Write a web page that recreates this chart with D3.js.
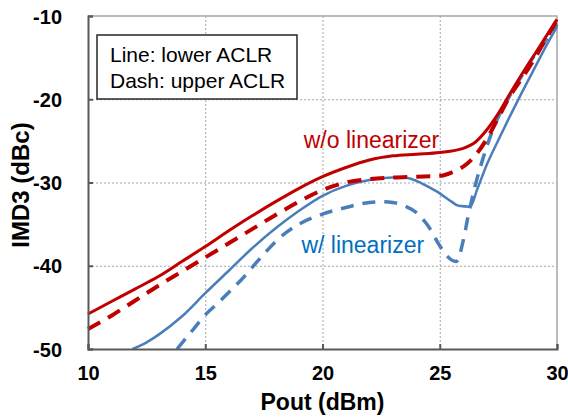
<!DOCTYPE html>
<html>
<head>
<meta charset="utf-8">
<script src="https://cdn.jsdelivr.net/npm/d3@7"></script>
<style>
  body { margin: 0; background: #fff; }
  svg { font-family: "Liberation Sans", Arial, sans-serif; }
  .tick text { font-weight: bold; font-size: 20px; fill: #000; }
  .grid line { stroke: #a6a6a6; stroke-dasharray: 2,2; }
  .grid .domain { display: none; }
</style>
</head>
<body>
<script>
// IMD3 vs Pout, [Pout dBm, IMD3 dBc]
var woLower = [[10,-45.8],[11,-44.3],[12,-42.8],[13,-41.3],[14,-39.5],[15,-37.7],[16,-35.8],[17,-34.0],[18,-32.3],[19,-30.7],
  [20,-29.3],[21,-28.2],[22,-27.3],[23,-26.8],[24,-26.6],[25,-26.4],[26,-25.9],[26.5,-25.2],[27,-23.7],[27.5,-21.7],
  [28,-19.3],[28.5,-17.0],[29,-14.8],[29.5,-12.6],[30,-10.4]];
var woUpper = [[10,-47.6],[11,-46.0],[12,-44.2],[13,-42.4],[14,-40.7],[15,-39.0],[16,-37.3],[17,-35.6],[18,-33.9],[19,-32.3],
  [20,-30.9],[21,-30.0],[22,-29.6],[23,-29.4],[24,-29.3],[25,-29.2],[25.5,-28.8],[26,-28.1],[26.5,-26.8],[27,-24.8],
  [27.5,-22.2],[28,-19.6],[28.5,-17.5],[29,-15.3],[29.5,-12.9],[30,-10.5]];
var wLower = [[11.9,-50],[12.5,-49.2],[13,-48.3],[14,-46.1],[15,-43.3],[16,-40.6],[17,-37.9],[18,-35.5],[19,-33.4],[20,-31.6],
  [21,-30.4],[22,-29.7],[23,-29.4],[23.5,-29.4],[24,-29.8],[24.5,-30.5],[25,-31.3],[25.5,-32.3],[25.8,-32.8],[26.3,-32.9],
  [26.6,-30.8],[27,-27.9],[27.5,-24.9],[28,-22.0],[28.5,-19.2],[29,-16.5],[29.5,-13.8],[30,-11.3]];
var wUpper = [[13.8,-50],[14.5,-47.6],[15,-45.9],[15.5,-44.6],[16,-43.2],[16.5,-41.8],[17,-40.2],[17.5,-38.6],[18,-37.1],
  [18.5,-35.9],[19,-35.0],[20,-33.8],[21,-33.0],[22,-32.4],[22.5,-32.3],[23,-32.4],[23.5,-32.8],[24,-33.6],[24.5,-35.2],
  [25,-37.6],[25.3,-38.8],[25.7,-39.5],[26,-37.0],[26.2,-34.2],[26.5,-30.5],[26.9,-26.6],[27.3,-23.4],[28,-19.5],
  [28.5,-17.2],[29,-14.9],[29.5,-13.0],[30,-11.0]];
var xTicks = [10, 15, 20, 25, 30];
var yTicks = [-50, -40, -30, -20, -10];
var legendLines = ["Line: lower ACLR", "Dash: upper ACLR"];

var margin = {top: 16, right: 11, bottom: 71, left: 88},
    width = 568 - margin.left - margin.right,
    height = 420 - margin.top - margin.bottom;

var svg = d3.select("body").append("svg")
    .attr("width", 568)
    .attr("height", 420)
  .append("g")
    .attr("transform", "translate(" + margin.left + "," + margin.top + ")");

var x = d3.scaleLinear().domain([10, 30]).range([0, width]);
var y = d3.scaleLinear().domain([-50, -10]).range([height, 0]);

// grid
svg.append("g").attr("class", "grid")
    .call(d3.axisBottom(x).tickValues([15, 20, 25]).tickSize(height).tickFormat(""));
svg.append("g").attr("class", "grid")
    .call(d3.axisLeft(y).tickValues([-40, -30, -20]).tickSize(-width).tickFormat(""));

// top / right frame
svg.append("path")
    .attr("d", "M0,0H" + width + "V" + height)
    .attr("fill", "none").attr("stroke", "#a6a6a6").attr("stroke-width", 1.5);

var line = d3.line()
    .x(function(d) { return x(d[0]); })
    .y(function(d) { return y(d[1]); })
    .curve(d3.curveMonotoneX);

var series = [
  {data: wLower, color: "#4a7ebb", w: 2.5, dash: null},
  {data: wUpper, color: "#4a7ebb", w: 3.5, dash: "13,9"},
  {data: woLower, color: "#c00000", w: 3, dash: null},
  {data: woUpper, color: "#c00000", w: 4, dash: "14,9"}
];

svg.selectAll(".curve")
    .data(series)
    .enter().append("path")
    .attr("class", "curve")
    .attr("d", function(d) { return line(d.data); })
    .attr("fill", "none")
    .attr("stroke", function(d) { return d.color; })
    .attr("stroke-width", function(d) { return d.w; })
    .attr("stroke-dasharray", function(d) { return d.dash; })
    .attr("stroke-linecap", "butt");

// axes (plain hyphen for negatives, like the original)
var fmt = function(d) { return String(d); };
var xAxis = svg.append("g")
    .attr("transform", "translate(0," + height + ")")
    .call(d3.axisBottom(x).tickValues(xTicks).tickSize(-5).tickPadding(17).tickFormat(fmt));
var yAxis = svg.append("g")
    .call(d3.axisLeft(y).tickValues(yTicks).tickSize(-5).tickPadding(26).tickFormat(fmt));
[xAxis, yAxis].forEach(function(a) {
  a.select(".domain").attr("stroke", "#595959").attr("stroke-width", 2);
  a.selectAll(".tick line").attr("stroke", "#595959").attr("stroke-width", 2);
});
yAxis.selectAll(".tick text").attr("dy", "0.36em");

svg.append("text")
    .attr("x", width / 2).attr("y", height + 61)
    .attr("text-anchor", "middle")
    .style("font-weight", "bold").style("font-size", "23px")
    .text("Pout (dBm)");

svg.append("text")
    .attr("transform", "translate(" + (29 - margin.left) + "," + (185 - margin.top) + ") rotate(-90)")
    .attr("text-anchor", "middle")
    .style("font-weight", "bold").style("font-size", "24px")
    .text("IMD3 (dBc)");

// legend box
var lg = svg.append("g").attr("transform", "translate(" + (97 - margin.left) + "," + (35 - margin.top) + ")");
lg.append("rect").attr("width", 200).attr("height", 64)
    .attr("fill", "#fff").attr("stroke", "#262626").attr("stroke-width", 1.5);
lg.selectAll("text").data(legendLines).enter().append("text")
    .attr("x", 13).attr("y", function(d, i) { return 27 + i * 26; })
    .style("font-size", "21px")
    .text(function(d) { return d; });

// annotations
svg.append("text")
    .attr("x", x(19.2)).attr("y", y(-25.9))
    .attr("fill", "#c00000").style("font-size", "23px")
    .text("w/o linearizer");
svg.append("text")
    .attr("x", x(19.1)).attr("y", y(-38.5))
    .attr("fill", "#0070c0").style("font-size", "23px")
    .text("w/ linearizer");
</script>
</body>
</html>
